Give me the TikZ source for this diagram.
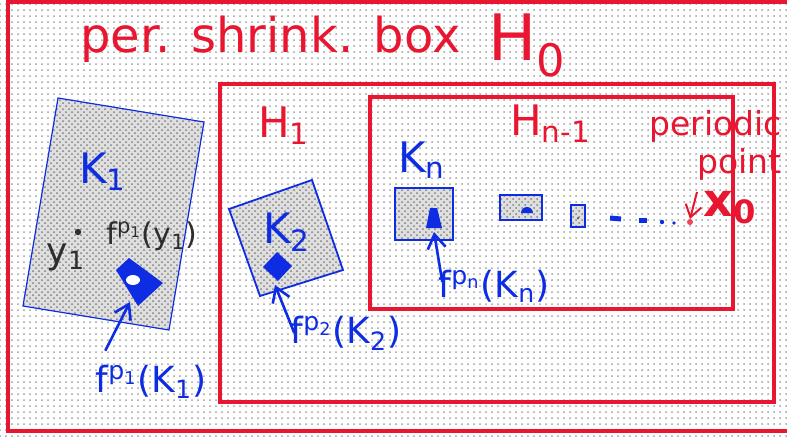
\documentclass[tikz,border=0pt]{standalone}
\usepackage{fontspec}
\setmainfont{DejaVu Sans}
\usetikzlibrary{arrows.meta,positioning,patterns,calc}

\definecolor{boxred}{RGB}{232,22,48}
\definecolor{setblue}{RGB}{14,44,226}
\definecolor{pencil}{RGB}{45,45,45}
\newcommand{\fsz}[1]{\fontsize{#1pt}{#1pt}\selectfont}

\tikzset{
  frame/.style={draw=boxred, line width=1.6pt},
  compact/.style={draw=setblue, line width=0.6pt, pattern=crosshatch dots, pattern color=gray},
  redlbl/.style={text=boxred, inner sep=0pt},
  bluelbl/.style={text=setblue, inner sep=0pt},
  pointer/.style={setblue, line width=1.3pt, -{Straight Barb[length=7pt,width=9pt]}},
}

\begin{document}
\begin{tikzpicture}[x=0.5pt, y=-0.5pt]
    \useasboundingbox (0,0) rectangle (787,436);
    % dotted background and the nested boxes
    \fill[white] (0,0) rectangle (787,436);
    \fill[pattern=dots, pattern color=gray!75] (0,0) rectangle (787,436);
    \draw[frame, line width=2pt] (8,2) rectangle (800,431);
    \draw[frame] (220,84) rectangle (774,402);
    \draw[frame] (370,97) rectangle (733,309);
    \node[redlbl, anchor=base west] (title) at (80,52) {\fsz{24}per. shrink. box};
    \node[redlbl, anchor=base west] (H0) at (488,60) {\fsz{32}H\textsubscript{0}};
    \node[redlbl, anchor=base west] (H1) at (258,137) {\fsz{21}H\textsubscript{1}};
    \node[redlbl, anchor=base west] (Hn) at (510,135) {\fsz{21}H\textsubscript{n-1}};

    % first compact set
    \fill[gray!25] (58,98) -- (204,122) -- (169,330) -- (23,306) -- cycle;
    \draw[compact] (58,98) -- (204,122) -- (169,330) -- (23,306) -- cycle;
    \node[bluelbl] (K1) at (103,172) {\fsz{21}K\textsubscript{1}};
    \fill[pencil] (78,232) circle (3.2);
    \node[inner sep=0pt, text=pencil] (y1) at (66,257) {\fsz{18}y\textsubscript{1}};
    \node[inner sep=0pt, text=pencil] (fy1) at (152,236) {\fsz{15}f\textsuperscript{p\textsubscript{1}}(y\textsubscript{1})};
    \fill[setblue] (116,270) -- (129,258) -- (163,283) -- (138,306) -- cycle;
    \fill[white] (133,280) ellipse (7 and 5);
    \coordinate (tip1) at (130,302);
    \node[bluelbl] (fK1) at (151,382) {\fsz{18}f\textsuperscript{p\textsubscript{1}}(K\textsubscript{1})};
    \draw[pointer] ([xshift=5pt,yshift=7pt]fK1.north west) -- (tip1);

    % second compact set
    \fill[gray!25] (229,209) -- (312,180) -- (343,270) -- (260,296) -- cycle;
    \draw[compact, line width=0.9pt] (229,209) -- (312,180) -- (343,270) -- (260,296) -- cycle;
    \node[bluelbl] (K2) at (287,232) {\fsz{21}K\textsubscript{2}};
    \fill[setblue] (277,252) -- (292,266) -- (278,281) -- (263,267) -- cycle;
    \coordinate (tip2) at (275,285);
    \node[bluelbl] (fK2) at (346,333) {\fsz{18}f\textsuperscript{p\textsubscript{2}}(K\textsubscript{2})};
    \draw[pointer] ([xshift=2pt]fK2.west) -- (tip2);

    % n-th compact set and the shrinking images
    \fill[gray!25] (395,188) rectangle (453,240);
    \draw[compact, line width=1.3pt] (395,188) rectangle (453,240);
    \node[bluelbl] (Kn) at (422,160) {\fsz{21}K\textsubscript{n}};
    \fill[setblue] (430,208) -- (437,208) -- (442,228) -- (426,228) -- cycle;
    \coordinate (tipn) at (434,232);
    \node[bluelbl] (fKn) at (494,286) {\fsz{18}f\textsuperscript{p\textsubscript{n}}(K\textsubscript{n})};
    \draw[pointer] ([xshift=2pt,yshift=2pt]fKn.west) -- (tipn);
    \fill[gray!25] (500,195) rectangle (542,220);
    \draw[compact, line width=1.3pt] (500,195) rectangle (542,220);
    \fill[setblue] (521,213) arc[start angle=180, end angle=360, x radius=6, y radius=6] -- cycle;
    \fill[gray!25] (571,205) rectangle (585,227);
    \draw[compact, line width=1.1pt] (571,205) rectangle (585,227);
    \fill[pencil] (578,218) circle (1);
    \draw[setblue, line width=2.5pt] (610,218) -- (621,219);
    \draw[setblue, line width=2.5pt] (639,220) -- (647,220);
    \fill[setblue] (662,222) circle (2.2);
    \fill[setblue] (674,223) circle (1.8);

    % periodic point
    \fill[boxred!80] (690,222) circle (3);
    \coordinate (x0dot) at (690,219);
    \node[redlbl, anchor=base west] (per) at (649,135) {\fsz{16.5}periodic};
    \node[redlbl, anchor=base west] (pt) at (697,173) {\fsz{16.5}point};
    \node[redlbl, anchor=base west] (x0) at (703,216) {\fsz{23}\bfseries x\textsubscript{0}};
    \draw[boxred, line width=1pt, -{Straight Barb[length=6pt,width=8pt]}] (697,192) -- (x0dot);
\end{tikzpicture}
\end{document}
